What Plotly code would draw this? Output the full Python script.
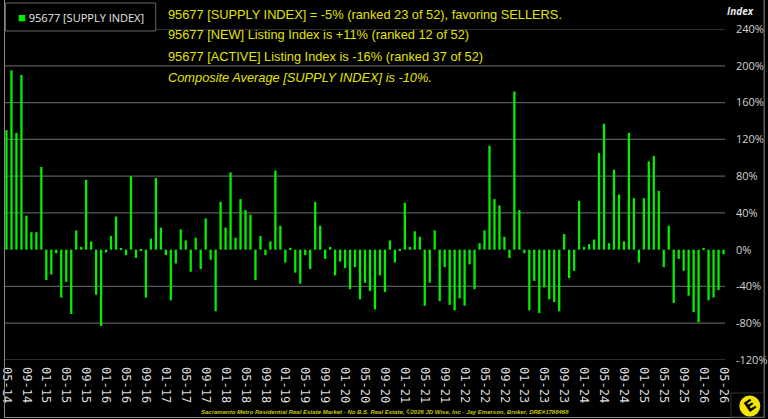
import plotly.graph_objects as go
import pandas as pd

# ---- data ----
months = [d.strftime("%m-%y") for d in pd.date_range("2014-05-01", "2026-05-01", freq="MS")]
supply_index = [
    130, 195, 127, 190, 37, 19, 19, 90, -33, -27,
    -4, -52, -35, -70, 21, 3, 76, 9, -49, -83,
    -3, 15, 36, 1, -6, 80, -9, -1, -52, 12,
    78, 24, -6, -55, -15, 22, 10, -24, 13, -21,
    34, -11, -67, 52, 24, 84, 13, 55, 43, 38,
    -33, 15, -6, 9, 86, 26, -14, 2, -25, -37,
    -6, -21, 52, 26, -10, 3, -28, -13, -20, -43,
    -19, -54, -36, -45, -65, -28, -46, 10, -14, -1,
    51, 3, 20, 14, -61, -36, 21, -56, -19, -60,
    -66, -53, -61, -16, -43, 7, 21, 113, 55, 48,
    14, -9, 172, 43, -4, -66, -34, -69, -41, -54,
    -57, -67, 17, -31, -23, 53, 3, 6, 11, 105,
    137, 7, 87, 60, 9, 127, 56, -14, 56, 96,
    102, 64, -19, 26, -58, -10, -23, -50, -68, -79,
    1, -55, -52, -44, -5,
]
x_tick_labels = months[::4]
y_ticks = [-120, -80, -40, 0, 40, 80, 120, 160, 200, 240]
y_tick_labels = [f"{v}%" for v in y_ticks]

series_name = "95677 [SUPPLY INDEX]"
info_lines = [
    "95677 [SUPPLY INDEX] = -5% (ranked 23 of 52), favoring SELLERS.",
    "95677 [NEW] Listing Index is +11% (ranked 12 of 52)",
    "95677 [ACTIVE] Listing Index is -16% (ranked 37 of 52)",
    "<i>Composite Average [SUPPLY INDEX] is -10%.</i>",
]
footer = ("Sacramento Metro Residential Real Estate Market - No B.S. Real Estate, "
          "\u00a92026 JD Wise, Inc - Jay Emerson, Broker, DRE#1788468")

# ---- figure ----
W, H = 768, 419
ML, MR, MT, MB = 0, 40, 29, 59
PW, PH = W - ML - MR, H - MT - MB

def px_x(p):  # pixel -> paper x
    return (p - ML) / PW

def px_y(p):  # pixel -> paper y
    return (H - MB - p) / PH

GREEN = "#00f000"
YELLOW = "#e2e200"

fig = go.Figure()
fig.add_trace(go.Bar(
    x=months, y=supply_index, name=series_name,
    marker=dict(color=GREEN, line=dict(width=0)),
    width=0.46, showlegend=False,
))

shapes = []
for v in y_ticks:
    if v == 0:
        continue
    shapes.append(dict(type="line", xref="paper", yref="y", x0=0, x1=px_x(727),
                       y0=v, y1=v, line=dict(color="#5a5a5a", width=1.2), layer="below"))
# outer frame (left, right, bottom)
shapes.append(dict(type="rect", xref="paper", yref="paper",
                   x0=px_x(0.5), x1=px_x(766.5), y0=px_y(417.5), y1=px_y(-5),
                   line=dict(color="#8a8a8a", width=1)))
# legend box
shapes.append(dict(type="rect", xref="paper", yref="paper",
                   x0=px_x(1.5), x1=px_x(153), y0=px_y(31), y1=px_y(3),
                   line=dict(color="#666", width=1), fillcolor="#000"))
# logo
shapes.append(dict(type="rect", xref="paper", yref="paper",
                   x0=px_x(733), x1=px_x(766), y0=px_y(417), y1=px_y(393),
                   line=dict(color="#333", width=1), fillcolor="#000"))
shapes.append(dict(type="circle", xref="paper", yref="paper",
                   xsizemode="pixel", ysizemode="pixel",
                   xanchor=px_x(752), yanchor=px_y(406),
                   x0=-10.5, x1=10.5, y0=-10.5, y1=10.5,
                   fillcolor="#f2e600", line=dict(color="#f2e600", width=0)))

annotations = []
# legend entry
annotations.append(dict(
    xref="paper", yref="paper", x=px_x(12), y=px_y(17.5), xanchor="left", yanchor="middle",
    text=f"<span style='color:{GREEN}; font-size:13px'>\u25a0</span> {series_name}",
    showarrow=False,
    font=dict(family="Open Sans, Noto Sans, sans-serif", size=11, color="#e8e8e8"),
))
# info lines
for txt, yp in zip(info_lines, [15, 35, 56, 77]):
    annotations.append(dict(
        xref="paper", yref="paper", x=px_x(163), y=px_y(yp), xanchor="left", yanchor="middle",
        text=txt, showarrow=False,
        font=dict(family="Liberation Sans, Arial, sans-serif", size=12.8, color=YELLOW),
    ))
# axis title
annotations.append(dict(
    xref="paper", yref="paper", x=px_x(743), y=px_y(11), xanchor="center", yanchor="middle",
    text="<b><i>Index</i></b>", showarrow=False,
    font=dict(family="Open Sans, Noto Sans, sans-serif", size=10, color="#e8e8e8"),
))
# footer
annotations.append(dict(
    xref="paper", yref="paper", x=px_x(384), y=px_y(411.5), xanchor="center", yanchor="middle",
    text=f"<b><i>{footer}</i></b>", showarrow=False,
    font=dict(family="Liberation Sans, Arial, sans-serif", size=6, color="#c8c800"),
))
# logo letter
annotations.append(dict(
    xref="paper", yref="paper", x=px_x(752), y=px_y(406), xanchor="center", yanchor="middle",
    text="<b>E</b>", showarrow=False, textangle=-35,
    font=dict(family="DejaVu Sans, sans-serif", size=15, color="#000"),
))

fig.update_layout(
    width=W, height=H,
    margin=dict(l=ML, r=MR, t=MT, b=MB, pad=0),
    paper_bgcolor="#000", plot_bgcolor="#000",
    xaxis=dict(
        type="category", range=[-0.5, len(months) - 0.5],
        tickmode="array", tickvals=x_tick_labels, ticktext=x_tick_labels,
        tickangle=90, showgrid=False, zeroline=False, showline=False,
        ticks="", ticklabelstandoff=6,
        tickfont=dict(family="DejaVu Sans Mono, monospace", size=12, color="#dcdcdc"),
    ),
    yaxis=dict(
        side="right", range=[-120, 240], tickmode="array",
        tickvals=y_ticks, ticktext=y_tick_labels,
        showgrid=False, zeroline=False, showline=False, ticks="",
        ticklabelstandoff=9,
        tickfont=dict(family="Open Sans, Noto Sans, sans-serif", size=11, color="#d0d0d0"),
    ),
    shapes=shapes, annotations=annotations,
)

fig.write_html("out.html")
